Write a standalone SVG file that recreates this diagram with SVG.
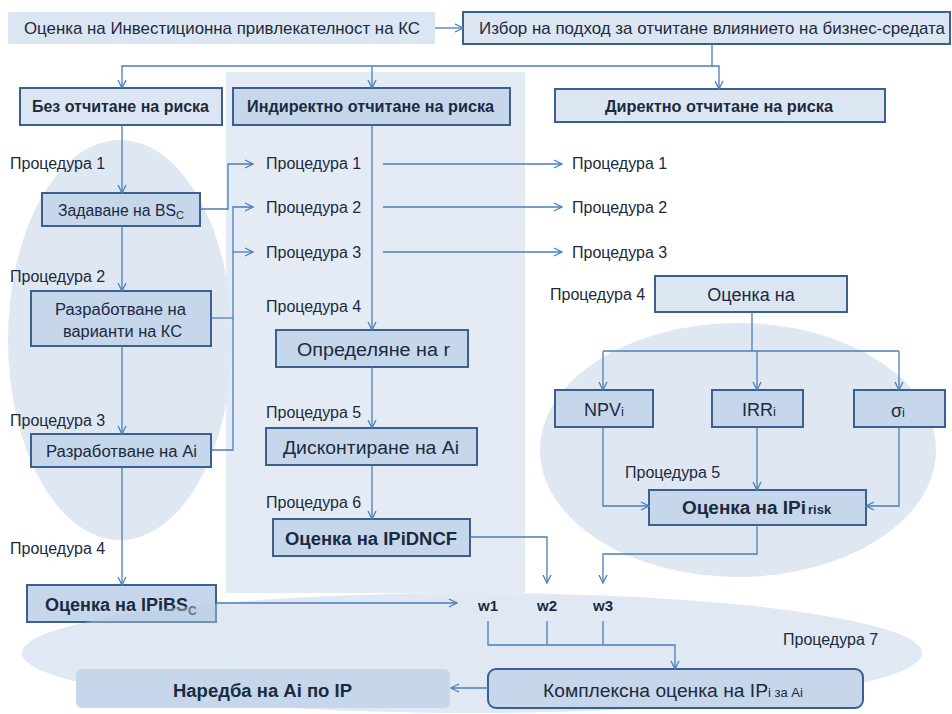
<svg xmlns="http://www.w3.org/2000/svg" width="952" height="714" viewBox="0 0 952 714">
  <defs>
    <style>
      .t { font-family: "Liberation Sans", Arial, sans-serif; fill: #1b2a40; }
      .p { font-size: 16px; }
      .m { font-size: 18px; }
      .b { font-weight: bold; }
      .lite { fill: #dce6f2; stroke: #3b5f8e; stroke-width: 2; }
      .mid { fill: #c6d7eb; stroke: #3b5f8e; stroke-width: 2; }
      .c { fill: none; stroke: #4a7ebb; stroke-width: 1.3; }
      .bg { fill: #dfe7f2; }
    </style>
    <marker id="arr" viewBox="0 0 10 10" refX="9" refY="5" markerWidth="10" markerHeight="10" markerUnits="userSpaceOnUse" orient="auto">
      <path d="M1,1 L9,5 L1,9" fill="none" stroke="#4a7ebb" stroke-width="1.3"/>
    </marker>
  </defs>

  <!-- background groupings -->
  <g id="backgrounds">
    <rect x="226" y="72" width="299" height="521" fill="#e4ebf5"/>
    <ellipse cx="120" cy="340" rx="112" ry="200" class="bg"/>
    <ellipse cx="738" cy="450" rx="198" ry="127" class="bg"/>
  </g>

  <!-- top row -->
  <g id="n-title">
    <rect x="8" y="12" width="427" height="32" fill="#dce6f2"/>
    <text class="t" x="24" y="34" font-size="17" textLength="396" lengthAdjust="spacingAndGlyphs">Оценка на Инвестиционна привлекателност на КС</text>
  </g>
  <g id="n-choice">
    <rect x="463" y="12" width="487" height="32" class="lite"/>
    <text class="t" x="479" y="34" font-size="17" textLength="466" lengthAdjust="spacingAndGlyphs">Избор на подход за отчитане влиянието на бизнес-средата</text>
  </g>

  <!-- approach headers -->
  <g id="n-norisk">
    <rect x="20" y="88" width="202" height="37" class="lite"/>
    <text class="t p b" x="32" y="112" textLength="177" lengthAdjust="spacingAndGlyphs">Без отчитане на риска</text>
  </g>
  <g id="n-indirect">
    <rect x="233" y="88" width="277" height="37" class="mid"/>
    <text class="t p b" x="247" y="112" textLength="247" lengthAdjust="spacingAndGlyphs">Индиректно отчитане на риска</text>
  </g>
  <g id="n-direct">
    <rect x="555" y="89" width="330" height="33" class="lite"/>
    <text class="t p b" x="605" y="112" textLength="228" lengthAdjust="spacingAndGlyphs">Директно отчитане на риска</text>
  </g>

  <!-- left column -->
  <g id="n-left-labels">
    <text class="t p" x="10" y="169">Процедура 1</text>
    <text class="t p" x="10" y="282">Процедура 2</text>
    <text class="t p" x="10" y="426">Процедура 3</text>
    <text class="t p" x="10" y="554">Процедура 4</text>
  </g>
  <g id="n-bs">
    <rect x="42" y="193" width="158" height="33" class="mid"/>
    <text class="t p" x="58" y="216"><tspan textLength="118" lengthAdjust="spacingAndGlyphs">Задаване на BS</tspan><tspan font-size="11" dy="3">C</tspan></text>
  </g>
  <g id="n-variants">
    <rect x="31" y="291" width="180" height="55" class="mid"/>
    <text class="t p" x="55" y="315" textLength="131" lengthAdjust="spacingAndGlyphs">Разработване на</text>
    <text class="t p" x="63" y="337" textLength="119" lengthAdjust="spacingAndGlyphs">варианти на КС</text>
  </g>
  <g id="n-ai">
    <rect x="31" y="434" width="180" height="33" class="mid"/>
    <text class="t p" x="46" y="457" textLength="151" lengthAdjust="spacingAndGlyphs">Разработване на Ai</text>
  </g>
  <g id="n-ipbs">
    <rect x="27" y="585" width="189" height="37" class="mid"/>
    <text class="t m b" x="45" y="611"><tspan textLength="143" lengthAdjust="spacingAndGlyphs">Оценка на IPiBS</tspan><tspan font-size="12" dy="4">C</tspan></text>
  </g>

  <!-- middle column -->
  <g id="n-mid-labels">
    <text class="t p" x="266" y="169">Процедура 1</text>
    <text class="t p" x="266" y="213">Процедура 2</text>
    <text class="t p" x="266" y="258">Процедура 3</text>
    <text class="t p" x="266" y="312">Процедура 4</text>
    <text class="t p" x="266" y="418">Процедура 5</text>
    <text class="t p" x="266" y="508">Процедура 6</text>
  </g>
  <g id="n-rate">
    <rect x="276" y="330" width="192" height="37" class="mid"/>
    <text class="t m" x="297" y="356" textLength="153" lengthAdjust="spacingAndGlyphs">Определяне на r</text>
  </g>
  <g id="n-discount">
    <rect x="266" y="428" width="211" height="37" class="mid"/>
    <text class="t m" x="283" y="454" textLength="176" lengthAdjust="spacingAndGlyphs">Дисконтиране на Ai</text>
  </g>
  <g id="n-dncf">
    <rect x="273" y="519" width="197" height="37" class="mid"/>
    <text class="t m b" x="285" y="545" textLength="172" lengthAdjust="spacingAndGlyphs">Оценка на IPiDNCF</text>
  </g>

  <!-- right column -->
  <g id="n-right-labels">
    <text class="t p" x="572" y="169">Процедура 1</text>
    <text class="t p" x="572" y="213">Процедура 2</text>
    <text class="t p" x="572" y="258">Процедура 3</text>
    <text class="t p" x="550" y="300">Процедура 4</text>
    <text class="t p" x="625" y="478">Процедура 5</text>
  </g>
  <g id="n-eval">
    <rect x="655" y="276" width="192" height="36" class="lite"/>
    <text class="t m" x="751" y="301" text-anchor="middle">Оценка на</text>
  </g>
  <g id="n-npv">
    <rect x="555" y="390" width="98" height="37" class="mid"/>
    <text class="t m" x="584" y="416">NPV<tspan font-size="13">i</tspan></text>
  </g>
  <g id="n-irr">
    <rect x="712" y="390" width="91" height="37" class="mid"/>
    <text class="t m" x="742" y="416">IRR<tspan font-size="13">i</tspan></text>
  </g>
  <g id="n-sigma">
    <rect x="854" y="390" width="91" height="37" class="mid"/>
    <text class="t m" x="891" y="417" font-family="'Liberation Serif', serif">σ<tspan font-family="'Liberation Sans', sans-serif" font-size="13">i</tspan></text>
  </g>
  <g id="n-iprisk">
    <rect x="649" y="490" width="217" height="35" class="mid"/>
    <text class="t m b" x="682" y="514"><tspan textLength="124" lengthAdjust="spacingAndGlyphs">Оценка на IPi</tspan><tspan font-size="13" dx="2">risk</tspan></text>
  </g>

  <!-- merge ellipse over the lower part -->
  <ellipse cx="472" cy="653" rx="450" ry="60" fill="#b9cce4" fill-opacity="0.45"/>

  <!-- weights and final nodes -->
  <g id="n-weights">
    <text class="t b" font-size="15" x="488" y="611" text-anchor="middle">w1</text>
    <text class="t b" font-size="15" x="547" y="611" text-anchor="middle">w2</text>
    <text class="t b" font-size="15" x="603" y="611" text-anchor="middle">w3</text>
    <text class="t p" x="783" y="645">Процедура 7</text>
  </g>
  <g id="n-complex">
    <rect x="488" y="669" width="375" height="39" rx="8" class="mid"/>
    <text class="t m" x="543" y="697"><tspan textLength="225" lengthAdjust="spacingAndGlyphs">Комплексна оценка на IP</tspan><tspan font-size="13">i за Ai</tspan></text>
  </g>
  <g id="n-rank">
    <rect x="76" y="669" width="374" height="39" rx="6" fill="#c6d7eb"/>
    <text class="t m b" x="173" y="697" textLength="179" lengthAdjust="spacingAndGlyphs">Наредба на Ai по IP</text>
  </g>

  <!-- connectors -->
  <g id="connectors" class="c">
    <path d="M435,28 H463" marker-end="url(#arr)"/>
    <path d="M712,44 V66 H122 V88" marker-end="url(#arr)"/>
    <path d="M372,66 V88" marker-end="url(#arr)"/>
    <path d="M712,66 H719 V89" marker-end="url(#arr)"/>

    <path d="M122,125 V193" marker-end="url(#arr)"/>
    <path d="M122,226 V291" marker-end="url(#arr)"/>
    <path d="M122,346 V434" marker-end="url(#arr)"/>
    <path d="M122,467 V585" marker-end="url(#arr)"/>

    <path d="M200,209 H228 V164 H253" marker-end="url(#arr)"/>
    <path d="M211,318 H233"/>
    <path d="M211,450 H233 V207 H253" marker-end="url(#arr)"/>
    <path d="M233,252 H253" marker-end="url(#arr)"/>

    <path d="M372,125 V330" marker-end="url(#arr)"/>
    <path d="M383,164 H562" marker-end="url(#arr)"/>
    <path d="M383,207 H562" marker-end="url(#arr)"/>
    <path d="M383,252 H562" marker-end="url(#arr)"/>
    <path d="M372,367 V428" marker-end="url(#arr)"/>
    <path d="M372,465 V519" marker-end="url(#arr)"/>
    <path d="M470,537 H547 V583" marker-end="url(#arr)"/>

    <path d="M752,312 V351"/>
    <path d="M603,351 H899"/>
    <path d="M603,351 V390" marker-end="url(#arr)"/>
    <path d="M757,351 V390" marker-end="url(#arr)"/>
    <path d="M899,351 V390" marker-end="url(#arr)"/>
    <path d="M603,427 V506 H649" marker-end="url(#arr)"/>
    <path d="M757,427 V490" marker-end="url(#arr)"/>
    <path d="M899,427 V506 H866" marker-end="url(#arr)"/>
    <path d="M757,525 V554 H603 V583" marker-end="url(#arr)"/>

    <path d="M216,603 H457" marker-end="url(#arr)"/>
    <path d="M488,621 V645 H675 V669" marker-end="url(#arr)"/>
    <path d="M547,621 V645"/>
    <path d="M603,621 V645"/>
    <path d="M488,688 H451" marker-end="url(#arr)"/>
  </g>
</svg>
